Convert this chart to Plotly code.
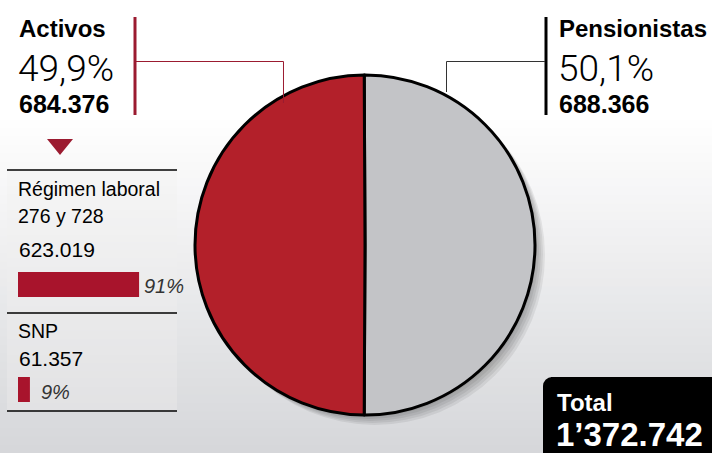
import plotly.graph_objects as go

W, H = 712, 453

# ---- data ----
groups = ["Pensionistas", "Activos"]
group_values = [688366, 684376]
group_pct_labels = ["50,1%", "49,9%"]
group_value_labels = ["688.366", "684.376"]

sub_categories = ["Régimen laboral<br>276 y 728", "SNP"]
sub_values = [623019, 61357]
sub_value_labels = ["623.019", "61.357"]
sub_pct_labels = ["91%", "9%"]

total_label = "1’372.742"

RED = "#b3202a"
GRAY = "#c3c4c7"
DARK_RED = "#9b1b30"
BAR_RED = "#a8142c"

SANS = "Liberation Sans, Arial, sans-serif"
LIGHT = "Roboto, Liberation Sans, sans-serif"


def px(x):
    return x / W


def py(y):
    return 1 - y / H


fig = go.Figure()

ROT = -0.26

# shadow layers behind pie
pie_x0, pie_x1, pie_y0, pie_y1 = 195, 535, 75, 415
for off in [10, 8, 6, 4, 2]:
    fig.add_trace(go.Pie(
        values=group_values, labels=groups, sort=False, direction="clockwise",
        rotation=ROT, textinfo="none", hoverinfo="skip", showlegend=False,
        marker=dict(colors=["rgba(0,0,0,0.065)", "rgba(0,0,0,0.065)"], line=dict(width=0)),
        domain=dict(x=[px(pie_x0 + off), px(pie_x1 + off)],
                    y=[py(pie_y1 + off), py(pie_y0 + off)]),
    ))

fig.add_trace(go.Pie(
    values=group_values, labels=groups, sort=False, direction="clockwise",
    rotation=ROT, textinfo="none", showlegend=False,
    marker=dict(colors=[GRAY, RED], line=dict(color="black", width=3)),
    domain=dict(x=[px(pie_x0), px(pie_x1)], y=[py(pie_y1), py(pie_y0)]),
))

# sub-group bars
full = group_values[1]
fig.add_trace(go.Bar(
    x=sub_values, y=[1, 0], orientation="h", width=0.238,
    marker=dict(color=BAR_RED, line=dict(width=0)),
    xaxis="x2", yaxis="y2", showlegend=False, hovertext=sub_categories,
))

shapes = []
# background gradient
n = 40
top_c = (255, 255, 255)
bot_c = (214, 215, 218)
start = 120
for i in range(n):
    y0 = start + (H - start) * i / n
    y1 = start + (H - start) * (i + 1) / n + 1
    t = (i + 0.5) / n
    c = tuple(int(top_c[k] + (bot_c[k] - top_c[k]) * t) for k in range(3))
    shapes.append(dict(type="rect", xref="paper", yref="paper", layer="below",
                       x0=0, x1=1, y0=py(min(y1, H)), y1=py(y0),
                       fillcolor="rgb(%d,%d,%d)" % c, line=dict(width=0)))
# panel lighter gradient
m = 30
for i in range(m):
    y0 = 170 + (411 - 170) * i / m
    y1 = 170 + (411 - 170) * (i + 1) / m + 0.5
    t = (i + 0.5) / m
    a = (246, 246, 246)
    b = (226, 226, 228)
    c = tuple(int(a[k] + (b[k] - a[k]) * t) for k in range(3))
    shapes.append(dict(type="rect", xref="paper", yref="paper", layer="below",
                       x0=px(7), x1=px(177), y0=py(y1), y1=py(y0),
                       fillcolor="rgb(%d,%d,%d)" % c, line=dict(width=0)))

# vertical bars next to titles
shapes.append(dict(type="line", xref="paper", yref="paper", x0=px(135), x1=px(135),
                   y0=py(17), y1=py(115), line=dict(color=DARK_RED, width=3)))
shapes.append(dict(type="line", xref="paper", yref="paper", x0=px(546), x1=px(546),
                   y0=py(17), y1=py(115), line=dict(color="black", width=3)))
# leader lines
shapes.append(dict(type="path", xref="paper", yref="paper",
                   path="M %f,%f L %f,%f L %f,%f" % (px(136), py(61.5), px(283.5), py(61.5), px(283.5), py(103)),
                   line=dict(color=DARK_RED, width=1)))
shapes.append(dict(type="path", xref="paper", yref="paper",
                   path="M %f,%f L %f,%f L %f,%f" % (px(545), py(61.5), px(446.5), py(61.5), px(446.5), py(92)),
                   line=dict(color="#333333", width=1)))
# triangle
shapes.append(dict(type="path", xref="paper", yref="paper",
                   path="M %f,%f L %f,%f L %f,%f Z" % (px(47), py(139), px(73), py(139), px(60), py(155)),
                   fillcolor=DARK_RED, line=dict(width=0)))
# separator lines in panel
for yy in [170, 313, 411]:
    shapes.append(dict(type="line", xref="paper", yref="paper", x0=px(7), x1=px(177),
                       y0=py(yy), y1=py(yy), line=dict(color="black", width=1.5)))
# total box (rounded top-left corner)
shapes.append(dict(type="rect", xref="paper", yref="paper", x0=px(551), x1=px(720),
                   y0=py(H + 2), y1=py(377), fillcolor="black", line=dict(width=0)))
shapes.append(dict(type="rect", xref="paper", yref="paper", x0=px(543), x1=px(560),
                   y0=py(H + 2), y1=py(386), fillcolor="black", line=dict(width=0)))
shapes.append(dict(type="circle", xref="paper", yref="paper", x0=px(543), x1=px(561),
                   y0=py(395), y1=py(377), fillcolor="black", line=dict(width=0)))

ann = []


def text(x, y, s, size, family, color="black", weight="normal", style="normal", anchor="left"):
    ann.append(dict(x=px(x), y=py(y), xref="paper", yref="paper", text=s, showarrow=False,
                    xanchor=anchor, yanchor="middle",
                    font=dict(size=size, family=family, color=color, weight=weight, style=style)))


# Activos block
text(17, 29, groups[1], 24, SANS, weight="bold")
text(16, 68, group_pct_labels[1], 37, LIGHT, weight=300)
text(17, 104, group_value_labels[1], 25, SANS, weight="bold")
# Pensionistas block
text(557, 29, groups[0], 24, SANS, weight="bold")
text(556, 68, group_pct_labels[0], 37, LIGHT, weight=300)
text(557, 104, group_value_labels[0], 25, SANS, weight="bold")
# panel
text(16, 189, "Régimen laboral", 19.5, SANS)
text(16, 216, "276 y 728", 19.5, SANS)
text(17, 249, sub_value_labels[0], 21, SANS)
text(142, 286, sub_pct_labels[0], 20, SANS, color="#333333", style="italic")
text(16, 331, "SNP", 19.5, SANS)
text(17, 358, sub_value_labels[1], 21, SANS)
text(39, 392, sub_pct_labels[1], 20, SANS, color="#333333", style="italic")
# total
text(555, 402, "Total", 24, SANS, color="white", weight="bold")
text(554, 434, total_label, 33, SANS, color="white", weight="bold")

fig.update_layout(
    width=W, height=H, margin=dict(l=0, r=0, t=0, b=0),
    paper_bgcolor="white", plot_bgcolor="rgba(0,0,0,0)",
    shapes=shapes, annotations=ann, showlegend=False,
    xaxis2=dict(domain=[px(18), px(151)], range=[0, full], visible=False, fixedrange=True),
    yaxis2=dict(domain=[py(402), py(272)], range=[-0.119, 1.119], visible=False, fixedrange=True,
                anchor="x2"),
    xaxis=dict(visible=False), yaxis=dict(visible=False),
)
fig.data[-1].update(xaxis="x2", yaxis="y2")

fig.write_html("out.html", config={"displayModeBar": False},
               post_script="document.body.style.margin='0';document.body.style.overflow='hidden';")
